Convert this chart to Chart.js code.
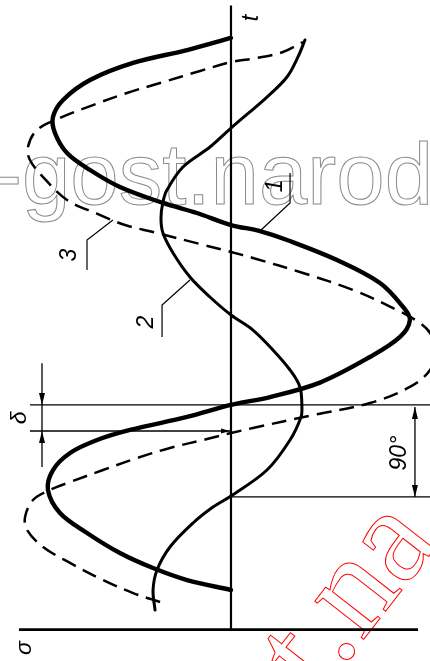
<!DOCTYPE html>
<html><head><meta charset="utf-8">
<script src="https://cdn.jsdelivr.net/npm/chart.js@4.4.0/dist/chart.umd.min.js"></script>
<style>html,body{margin:0;padding:0;background:#fff;}#wrap{width:430px;height:661px;position:relative;overflow:hidden;}</style>
</head><body><div id="wrap"><canvas id="c"></canvas></div>
<script>
// t: phase in degrees (vertical axis, upward); sigma: relative stress (positive to the left)
const curve1T = [0, 9.8, 21.6, 36.4, 56.1, 75.7, 98.4, 118.0, 134.8, 147.5, 157.4, 170.2, 182.0, 189.8, 204.0, 229.2, 248.9, 265.6, 278.4, 302.0, 324.6, 344.3, 353.1, 359.0, 370.8, 380.7, 396.4, 413.1, 429.8, 449.5, 465.2, 482.0, 501.6, 518.4, 531.1, 543.0];
const curve1S = [0, 0.244, 0.433, 0.617, 0.80, 0.95, 1.017, 0.989, 0.894, 0.744, 0.561, 0.244, 0, -0.217, -0.494, -0.772, -0.939, -0.994, -0.956, -0.828, -0.589, -0.311, -0.161, 0, 0.189, 0.378, 0.617, 0.783, 0.911, 0.978, 0.989, 0.933, 0.783, 0.544, 0.244, 0];

const curve2T = [-19.7, 0, 19.7, 42.3, 65.9, 81.6, 92.5, 118.0, 147.5, 170.2, 180.0, 199.7, 216.4, 236.1, 255.7, 270.5, 288.2, 307.9, 331.5, 351.1, 365.9, 381.6, 393.4, 416.1, 435.7, 454.4, 484.9, 504.6, 524.3, 541.0];
const curve2S = [0.422, 0.433, 0.411, 0.339, 0.211, 0.10, 0, -0.20, -0.328, -0.389, -0.394, -0.383, -0.328, -0.233, -0.122, 0, 0.117, 0.228, 0.322, 0.378, 0.389, 0.378, 0.356, 0.267, 0.117, 0, -0.20, -0.311, -0.372, -0.411];

const curve3T = [-11.8, -3.0, 9.8, 26.6, 42.3, 59.0, 71.8, 88.5, 98.4, 106.2, 118.0, 129.8, 139.7, 148.5, 154.4, 159.3, 172.1, 183.9, 199.7, 216.4, 236.1, 252.8, 262.6, 275.4, 295.1, 311.8, 326.6, 332.5, 340.3, 352.1, 359.0, 369.8, 383.6, 406.2, 422.9, 435.7, 452.5, 464.3, 477.0, 488.9, 498.7, 510.5, 519.3, 523.3, 529.2, 539.0];
const curve3S = [0.394, 0.544, 0.711, 0.894, 1.044, 1.133, 1.144, 1.10, 1.006, 0.894, 0.711, 0.522, 0.339, 0.133, 0, -0.122, -0.456, -0.772, -0.994, -1.106, -1.14, -1.106, -1.05, -0.922, -0.678, -0.40, -0.122, 0, 0.172, 0.433, 0.589, 0.739, 0.911, 1.044, 1.117, 1.128, 1.078, 0.95, 0.767, 0.578, 0.394, 0.172, 0, -0.144, -0.289, -0.40];

// construction lines (t / sigma values)
const tAxisT = [575, -39];
const sigmaAxisS = [1.178, -1.039];
const sigmaAxisT = -39;
const deltaUpperT = 182.0;   // zero of curve 1
const deltaLowerT = 156.4;   // zero of curve 3
const zero2T = 91.5;         // zero of curve 2
const deltaDimS = 1.05;
const deltaDimT = [223, 121];
const dim90S = -1.022;
const leader1 = {s: [-0.161, -0.328, -0.328], t: [353.1, 380.7, 410.2]};
const leader2 = {s: [0.228, 0.383, 0.383], t: [304.9, 280.3, 248.9]};
const leader3 = {s: [0.656, 0.80, 0.80], t: [363.9, 344.3, 314.8]};

const labelTexts = ['1', '2', '3', 't', 'σ', 'δ', '90°'];
const labelS = [-0.25, 0.467, 0.894, -0.117, 1.144, 1.172, -0.939];
const labelT = [397.4, 263.6, 329.5, 562.6, -57, 169.2, 134.7];

const zip = (s, t) => s.map((v, i) => ({x: v, y: t[i]}));
const lineDs = (pts, w, extra) => Object.assign({data: pts, showLine: true, borderColor: '#000', backgroundColor: '#000', borderWidth: w, pointRadius: 0, tension: 0, fill: false}, extra || {});

const datasets = [
  lineDs(zip([0, 0], tAxisT), 2.2),
  lineDs(zip(sigmaAxisS, [sigmaAxisT, sigmaAxisT]), 2.6),
  lineDs(zip([1.117, -1.106], [deltaUpperT, deltaUpperT]), 1.3),
  lineDs(zip([1.117, 0], [deltaLowerT, deltaLowerT]), 1.3),
  lineDs(zip([0, -1.106], [zero2T, zero2T]), 1.3),
  lineDs(zip([deltaDimS, deltaDimS], deltaDimT), 1.3),
  lineDs(zip([dim90S, dim90S], [deltaUpperT - 2, zero2T]), 1.3),
  lineDs(zip(leader1.s, leader1.t), 1.2),
  lineDs(zip(leader2.s, leader2.t), 1.2),
  lineDs(zip(leader3.s, leader3.t), 1.2),
  lineDs(zip(curve1S, curve1T), 4.4, {tension: 0.35, borderCapStyle: 'round'}),
  lineDs(zip(curve2S, curve2T), 3.0, {tension: 0.35, borderCapStyle: 'round'}),
  lineDs(zip(curve3S, curve3T), 2.5, {tension: 0.35, borderDash: [15, 8]})
];

function arrow(ctx, x, y, dx, dy, len, half) {
  ctx.beginPath();
  ctx.moveTo(x, y);
  ctx.lineTo(x - dx * len - dy * half, y - dy * len + dx * half);
  ctx.lineTo(x - dx * len + dy * half, y - dy * len - dx * half);
  ctx.closePath();
  ctx.fill();
}

const decor = {
  id: 'decor',
  beforeDatasetsDraw(chart) {
    const ctx = chart.ctx;
    ctx.save();
    ctx.font = '87px "Liberation Sans", Arial, sans-serif';
    ctx.strokeStyle = '#8a8a8a';
    ctx.lineWidth = 1;
    ctx.textBaseline = 'alphabetic';
    ctx.strokeText('-gost.narod', -7, 204);
    ctx.restore();
    ctx.save();
    ctx.translate(318, 698);
    ctx.rotate(-52 * Math.PI / 180);
    ctx.font = '135px "Liberation Serif", "Times New Roman", serif';
    ctx.strokeStyle = '#ff0000';
    ctx.lineWidth = 1;
    ctx.strokeText('t.na', 0, 0);
    ctx.restore();
  },
  afterDatasetsDraw(chart) {
    const ctx = chart.ctx;
    const xs = chart.scales.x, ys = chart.scales.y;
    const X = v => xs.getPixelForValue(v), Y = v => ys.getPixelForValue(v);
    ctx.save();
    ctx.fillStyle = '#000';
    arrow(ctx, X(deltaDimS), Y(deltaUpperT), 0, 1, 12, 3);
    arrow(ctx, X(deltaDimS), Y(deltaLowerT), 0, -1, 12, 3);
    arrow(ctx, X(dim90S), Y(deltaUpperT - 2), 0, -1, 12, 3);
    arrow(ctx, X(dim90S), Y(zero2T), 0, 1, 12, 3);
    arrow(ctx, X(0) - 1, Y(deltaLowerT), 1, 0, 9, 2.5);
    ctx.font = 'italic 23px "Liberation Sans", Arial, sans-serif';
    ctx.textAlign = 'center';
    ctx.textBaseline = 'middle';
    labelTexts.forEach((txt, i) => {
      ctx.save();
      ctx.translate(X(labelS[i]), Y(labelT[i]));
      ctx.rotate(-Math.PI / 2);
      ctx.fillText(txt, 0, 0);
      ctx.restore();
    });
    ctx.restore();
  }
};

new Chart(document.getElementById('c'), {
  type: 'scatter',
  data: {datasets},
  options: {
    responsive: true, maintainAspectRatio: false, animation: false,
    layout: {padding: 0},
    plugins: {legend: {display: false}, tooltip: {enabled: false}},
    scales: {
      x: {type: 'linear', display: false, reverse: true, min: -1.1056, max: 1.2833},
      y: {type: 'linear', display: false, min: -69.84, max: 580.33}
    }
  },
  plugins: [decor]
});
</script></body></html>
